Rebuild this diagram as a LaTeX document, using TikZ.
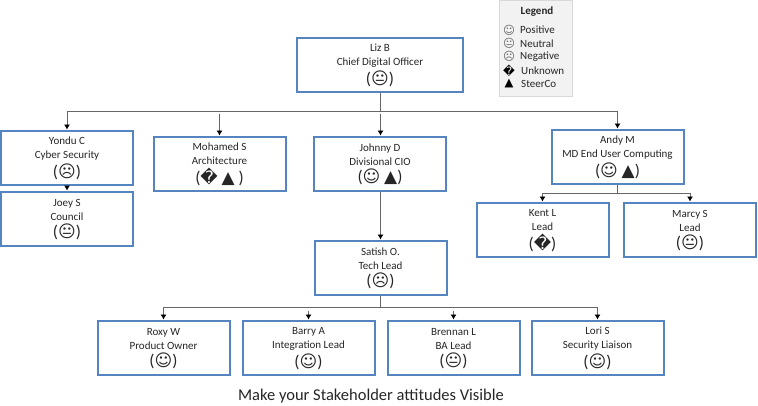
\documentclass[tikz,border=0pt]{standalone}
\usepackage{fontspec}
\setmainfont{Carlito}
\newfontfamily\sym{DejaVu Sans}
\usetikzlibrary{arrows.meta}
\newcommand{\Pos}{{\sym ☺}}
\newcommand{\Neu}{{\sym 😐}}
\newcommand{\Neg}{{\sym ☹}}
\newcommand{\Unk}{{\sym �}}
\newcommand{\Ste}{{\sym ▲}}
\newcommand{\Att}[1]{{\fontsize{17}{18}\selectfont (#1)}}
\newcommand{\Card}[3]{\rule{0pt}{10pt}#1\\#2\\[3pt]\Att{#3}}
\tikzset{
  x=1pt,y=-1pt,
  person/.style={draw=boxblue,line width=2pt,fill=white,minimum width=132pt,minimum height=54pt,inner sep=0pt,align=center,font=\fontsize{11}{13.5}\selectfont,text=black!85},
  conn/.style={draw=black!60,line width=0.8pt},
  arr/.style={conn,-{Latex[black,length=5pt,width=6pt]}},
  legtext/.style={anchor=west,inner sep=0pt,font=\fontsize{11}{13}\selectfont,text=black!85},
  legicon/.style={inner sep=0pt,text=black!60,font=\fontsize{11.5}{13}\selectfont},
}
\definecolor{boxblue}{HTML}{5585C0}
\begin{document}
\begin{tikzpicture}
\useasboundingbox (0,0) rectangle (758,405);
\node[fill=black!5,draw=black!15,line width=1pt,minimum width=73pt,minimum height=96pt,inner sep=0pt] (legend) at (535.5,48.5) {};
\node[inner sep=0pt,font=\bfseries\fontsize{11}{13}\selectfont,text=black!85] (legtitle) at (537,12) {Legend};
\node[legicon] (i1) at (509,30) {\Pos};
\node[legicon] (i2) at (509,43.5) {\Neu};
\node[legicon] (i3) at (509,56.5) {\Neg};
\node[legicon,text=black] (i4) at (509,71) {\Unk};
\node[legicon,text=black] (i5) at (509,84) {\Ste};
\node[legtext] (t1) at (520,30) {Positive};
\node[legtext] (t2) at (520,43.5) {Neutral};
\node[legtext] (t3) at (520,56.5) {Negative};
\node[legtext] (t4) at (521,71) {Unknown};
\node[legtext] (t5) at (521,84) {SteerCo};

\node[person,minimum width=166pt] (liz) at (380,64.5) {\Card{Liz B}{Chief Digital Officer}{\Neu}};
\node[person] (yondu) at (67,157.5) {\Card{Yondu C}{Cyber Security}{\Neg}};
\node[person] (joey) at (67,218.5) {\Card{Joey S}{Council}{\Neu}};
\node[person] (mohamed) at (219.5,163.5) {\Card{Mohamed S}{Architecture}{\Unk\ \Ste\ }};
\node[person] (johnny) at (380,163.5) {\Card{Johnny D}{Divisional CIO}{\Pos\ \Ste}};
\node[person] (andy) at (617.5,156.5) {\Card{Andy M}{MD End User Computing}{\Pos\ \Ste}};
\node[person] (kent) at (542.5,229.5) {\Card{Kent L}{Lead}{\Unk}};
\node[person] (marcy) at (690,229.5) {\Card{Marcy S}{Lead}{\Neu}};
\node[person] (satish) at (380.5,267.5) {\Card{Satish O.}{Tech Lead}{\Neg}};
\node[person] (roxy) at (163.5,347.5) {\Card{Roxy W}{Product Owner}{\Pos}};
\node[person] (barry) at (308.5,347.5) {\Card{Barry A}{Integration Lead}{\Pos}};
\node[person] (brennan) at (453.5,347.5) {\Card{Brennan L}{BA Lead}{\Neu}};
\node[person] (lori) at (597.5,347.5) {\Card{Lori S}{Security Liaison}{\Pos}};
\node[inner sep=0pt,font=\fontsize{16.5}{18}\selectfont,text=black!85] (caption) at (371,396) {Make your Stakeholder attitudes Visible};

\coordinate (bus1) at (380.5,111.5);
\coordinate (bus2) at (617.5,193.5);
\coordinate (bus3) at (380.5,307.5);
\draw[conn] (liz.south -| bus1) -- (bus1);
\draw[arr] (bus1) -| (yondu.north);
\draw[arr] (bus1) -| (andy.north);
\draw[arr,shorten <=2pt] (mohamed.north |- bus1) -- (mohamed.north);
\draw[arr,shorten <=2pt] (bus1) -- (johnny.north -| bus1);
\draw[arr] (yondu.south) -- (joey.north);
\draw[arr] (johnny.south -| satish.north) -- (satish.north);
\draw[conn] (andy.south) -- (bus2);
\draw[arr] (bus2) -| (kent.north);
\draw[arr] (bus2) -| (marcy.north);
\draw[conn] (satish.south) -- (bus3);
\draw[arr] (bus3) -| (roxy.north);
\draw[arr] (bus3) -| (lori.north);
\draw[arr,shorten <=3pt] (barry.north |- bus3) -- (barry.north);
\draw[arr,shorten <=3pt] (brennan.north |- bus3) -- (brennan.north);
\end{tikzpicture}
\end{document}
